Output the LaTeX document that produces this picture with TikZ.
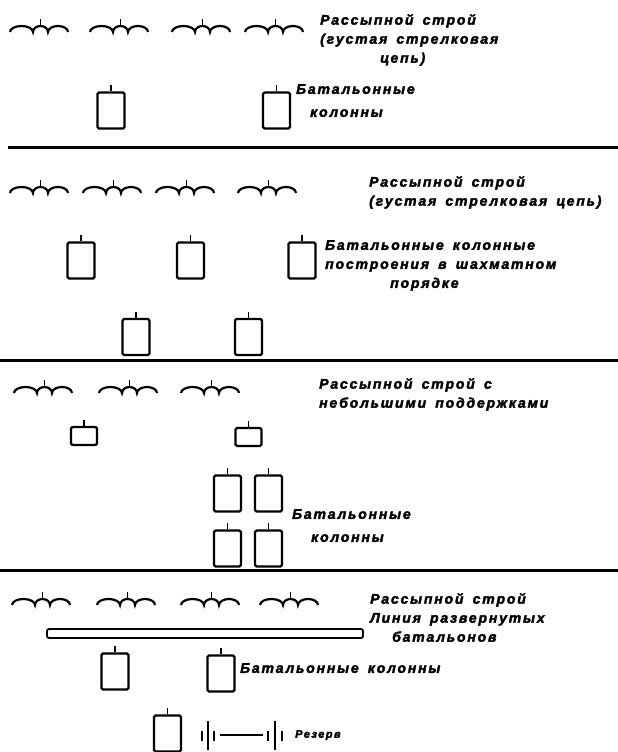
\documentclass[tikz,border=0pt]{standalone}
\usepackage{fontspec}
\setmainfont{Liberation Sans}[LetterSpace=13,WordSpace=1.6,BoldItalicFeatures={FakeBold=2.5}]
\usetikzlibrary{positioning}

\begin{document}
\begin{tikzpicture}[x=1pt,y=1pt,
  col/.style={draw,line width=2.2pt,rounded corners=1.5pt,minimum width=27pt,minimum height=36pt,inner sep=0pt},
  sup/.style={col,minimum width=26pt,minimum height=18pt},
  lbl/.style={anchor=north west,inner sep=0pt,align=left,font=\fontsize{14}{19}\selectfont\bfseries\itshape},
  tick/.style={line width=1.8pt},
  rule/.style={line width=3pt},
  skirm/.pic={
    \draw[line width=2.2pt] (0,0) arc[start angle=180,end angle=0,x radius=11.5,y radius=6]
      arc[start angle=180,end angle=0,x radius=7.5,y radius=6]
      arc[start angle=180,end angle=0,x radius=10,y radius=6];
    \draw[tick] (30.5,6) -- (30.5,13);
  }]
\useasboundingbox (0,0) rectangle (618,-752);

% --- 1
\foreach \x in {10,90,172,245} \pic at (\x,-32) {skirm};
\node[lbl] (r1) at (320,-14) {Рассыпной строй\\(густая стрелковая\\\hspace*{60pt}цепь)};
\node[col] (a1) at (111,-110.5) {};
\node[col] (a2) at (276.5,-110.5) {};
\node[lbl] (b1) at (296,-84) {Батальонные\\[4pt]\hspace*{14pt}колонны};
\draw[rule] (8,-147.5) -- (618,-147.5);

% --- 2
\foreach \x in {10,83,156,238} \pic at (\x,-193) {skirm};
\node[lbl] (r2) at (369,-176) {Рассыпной строй\\(густая стрелковая цепь)};
\node[col] (c1) at (81,-260.5) {};
\node[col] (c2) at (190.5,-260.5) {};
\node[col] (c3) at (302,-260.5) {};
\node[lbl] (b2) at (325,-240) {Батальонные колонные\\построения в шахматном\\\hspace*{65pt}порядке};
\node[col] (c4) at (136,-337) {};
\node[col] (c5) at (248.5,-337) {};
\draw[rule] (0,-360) -- (618,-360);

% --- 3
\foreach \x in {14,99,181} \pic at (\x,-393) {skirm};
\node[lbl] (r3) at (319,-378) {Рассыпной строй с\\небольшими поддержками};
\node[sup] (s1) at (84,-436) {};
\node[sup] (s2) at (248.5,-437) {};
\node[col] (d1) at (227.5,-493.5) {};
\node[col] (d2) at (268.5,-493.5) {};
\node[col] (d3) at (227.5,-548.5) {};
\node[col] (d4) at (268.5,-548.5) {};
\node[lbl] (b3) at (292,-509) {Батальонные\\[4pt]\hspace*{19pt}колонны};
\draw[rule] (0,-570) -- (618,-570);

% --- 4
\foreach \x in {12,97,181,260} \pic at (\x,-605) {skirm};
\node[lbl] (r4) at (370,-593) {Рассыпной строй\\Линия развернутых\\\hspace*{22pt}батальонов};
\node[draw,line width=1.8pt,rounded corners=2pt,minimum width=316pt,minimum height=9pt,inner sep=0pt] (ln) at (205,-633.5) {};
\node[col] (e1) at (115,-671.5) {};
\node[col] (e2) at (221,-673.5) {};
\node[lbl] (b4) at (240,-663) {Батальонные колонны};
\node[col] (e3) at (167.5,-733.5) {};
% reserve
\foreach \x in {202,214,268,282} \draw[tick] (\x,-731) -- (\x,-741);
\foreach \x in {208,275} \draw[tick] (\x,-721) -- (\x,-750);
\draw[tick] (220,-735) -- (263,-735);
\node[lbl,font=\fontsize{11}{13}\selectfont\bfseries\itshape] (rz) at (295,-730) {Резерв};

\foreach \n in {a1,a2,c1,c2,c3,c4,c5,s1,s2,d1,d2,d3,d4,e1,e2,e3}
  \draw[tick] (\n.north) -- ++(0,6);
\end{tikzpicture}
\end{document}
